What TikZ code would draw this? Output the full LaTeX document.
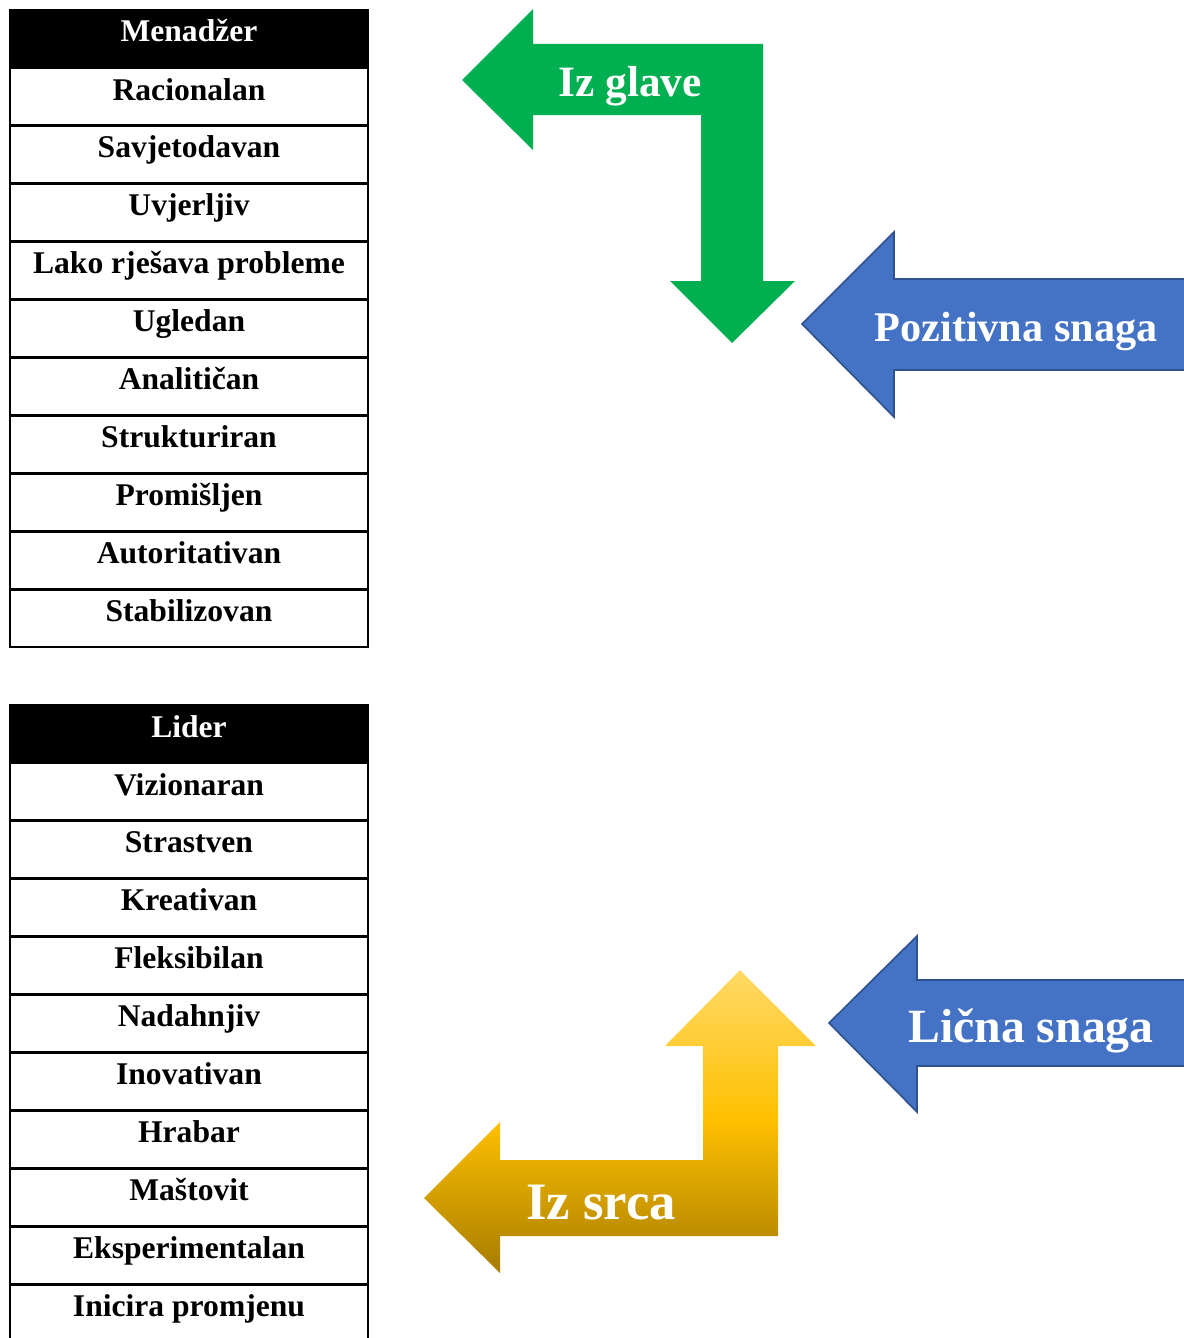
\documentclass[tikz,border=0pt]{standalone}
\usepackage{fontspec}
\setmainfont{Liberation Serif}
\definecolor{grn}{HTML}{00B050}
\definecolor{blu}{HTML}{4472C4}
\definecolor{bluline}{HTML}{2F528F}
\definecolor{ytop}{HTML}{FFD966}
\definecolor{ymid}{HTML}{FFC000}
\definecolor{ybot}{HTML}{A67C00}
\pgfdeclareverticalshading{yshade}{100bp}{color(0bp)=(ybot); color(25bp)=(ybot); color(50bp)=(ymid); color(75bp)=(ytop); color(100bp)=(ytop)}
\begin{document}
\begin{tikzpicture}[x=0.75pt,y=-0.75pt,
  cell/.style={font=\bfseries\fontsize{23.7}{28}\selectfont, anchor=base, inner sep=0pt},
  headtext/.style={cell, text=white},
  tabline/.style={line width=2.2pt, black},
  arrtext/.style={text=white, anchor=base, inner sep=0pt},
  bluearrow/.style={fill=blu, draw=bluline, line width=1.2pt, line join=miter}]
\useasboundingbox (0,0) rectangle (1184,1338);

% ---------- Top table: Menadzer ----------
\fill[black] (10,10) rectangle (368,68);
\node[headtext] (mhead) at (189,42) {Menadžer};
\foreach \t [count=\i from 0] in {Racionalan,Savjetodavan,Uvjerljiv,Lako rješava probleme,Ugledan,Analitičan,Strukturiran,Promišljen,Autoritativan,Stabilizovan}{
  \node[cell] (m\i) at (189,{68+57.9*\i+32}) {\t};
  \draw[tabline] (10,{68+57.9*\i}) -- (368,{68+57.9*\i});
}
\draw[tabline] (10,10) rectangle (368,647);

% ---------- Bottom table: Lider ----------
\fill[black] (10,705) rectangle (368,763);
\node[headtext] (lhead) at (189,737) {Lider};
\foreach \t [count=\i from 0] in {Vizionaran,Strastven,Kreativan,Fleksibilan,Nadahnjiv,Inovativan,Hrabar,Maštovit,Eksperimentalan,Inicira promjenu}{
  \node[cell] (l\i) at (189,{763+57.9*\i+32}) {\t};
  \draw[tabline] (10,{763+57.9*\i}) -- (368,{763+57.9*\i});
}
\draw[tabline] (10,1345) -- (10,705) -- (368,705) -- (368,1345);

% ---------- Green bent arrow ----------
\fill[grn] (462,80) -- (533,9) -- (533,44) -- (763,44) -- (763,281) -- (795,281)
  -- (732,343) -- (670,281) -- (701,281) -- (701,115) -- (533,115) -- (533,150) -- cycle;
\node[arrtext, font=\bfseries\fontsize{32.5}{36}\selectfont] (glava) at (630,97) {Iz glave};

% ---------- Blue arrow: Pozitivna snaga ----------
\draw[bluearrow] (802,324) -- (894,232) -- (894,279) -- (1186,279) -- (1186,370)
  -- (894,370) -- (894,417) -- cycle;
\node[arrtext, font=\bfseries\fontsize{31.7}{35}\selectfont] (poz) at (1016,341) {Pozitivna snaga};

% ---------- Blue arrow: Licna snaga ----------
\draw[bluearrow] (829,1023) -- (917,936) -- (917,980) -- (1186,980) -- (1186,1066)
  -- (917,1066) -- (917,1112) -- cycle;
\node[arrtext, font=\bfseries\fontsize{35.8}{40}\selectfont] (licna) at (1031,1042) {Lična snaga};

% ---------- Yellow bent arrow ----------
\shade[shading=yshade]
  (740,970) -- (816,1046) -- (778,1046) -- (778,1236) -- (500,1236) -- (500,1273)
  -- (424,1198) -- (500,1122) -- (500,1160) -- (703,1160) -- (703,1046) -- (665,1046) -- cycle;
\node[arrtext, font=\bfseries\fontsize{39.5}{44}\selectfont] (srce) at (601,1219) {Iz srca};
\end{tikzpicture}
\end{document}
